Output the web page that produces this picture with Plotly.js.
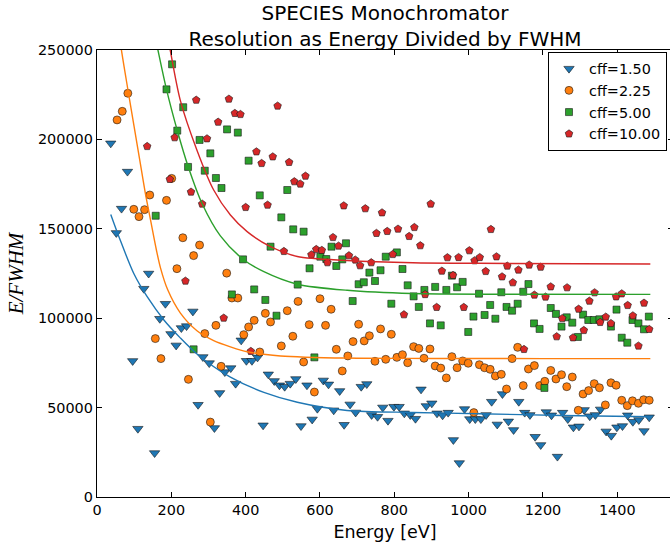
<!DOCTYPE html>
<html>
<head>
<meta charset="utf-8">
<script src="https://cdn.plot.ly/plotly-3.0.1.min.js"></script>
<style>
html, body { margin:0; padding:0; overflow:hidden; background:#fff; width:670px; height:547px; }
#chart { width:680px; height:547px; }
</style>
</head>
<body>
<div id="chart"></div>
<script>
// ---- data ----
const seriesNames = ["cff=1.50", "cff=2.25", "cff=5.00", "cff=10.00"];

const blueE = [37, 52, 66, 82, 96, 110, 126, 139, 155, 169, 184, 199, 213, 227, 241, 258, 272, 285, 302, 316, 330, 344, 360, 373, 388, 402, 417, 432, 447, 461, 477, 491, 505, 520, 535, 549, 565, 579, 593, 609, 623, 637, 653, 665, 681, 696, 711, 726, 739, 755, 769, 783, 799, 813, 827, 843, 857, 872, 886, 901, 915, 930, 945, 959, 975, 989, 1003, 1018, 1033, 1047, 1062, 1077, 1091, 1107, 1121, 1135, 1151, 1165, 1179, 1194, 1209, 1223, 1239, 1253, 1267, 1282, 1297, 1311, 1326, 1341, 1355, 1370, 1384, 1399, 1414, 1428, 1442, 1458, 1472, 1486];
const blueR = [197800, 147700, 161300, 182000, 76100, 38200, 116500, 125000, 24600, 99700, 108100, 91200, 84800, 94500, 95600, 103800, 51600, 78300, 74900, 38600, 58200, 69900, 72100, 63400, 87600, 76200, 76200, 78100, 40100, 68600, 64900, 62500, 61700, 63400, 66000, 39700, 62500, 43400, 49400, 65200, 63000, 48500, 59300, 40400, 51800, 47300, 61700, 63200, 45900, 44900, 50100, 42700, 50500, 50500, 46800, 45900, 43800, 60200, 50900, 52400, 46800, 45700, 47200, 31900, 19000, 49200, 43600, 43600, 43600, 45900, 53300, 40600, 57600, 42300, 37500, 53300, 47200, 45900, 33700, 29100, 47500, 45700, 22600, 47200, 43600, 39000, 39500, 48700, 45200, 45900, 49000, 36700, 34300, 39000, 39700, 45700, 42100, 43100, 36900, 44600];

const orangeE = [54, 68, 83, 99, 113, 128, 142, 157, 172, 187, 201, 215, 231, 246, 260, 276, 290, 305, 320, 334, 349, 363, 379, 395, 408, 423, 438, 453, 467, 496, 512, 527, 541, 556, 571, 585, 600, 615, 630, 644, 660, 675, 689, 704, 719, 733, 748, 763, 777, 792, 807, 822, 836, 852, 866, 880, 896, 910, 925, 940, 955, 969, 984, 999, 1014, 1029, 1043, 1058, 1072, 1088, 1102, 1117, 1132, 1147, 1161, 1177, 1191, 1205, 1221, 1235, 1250, 1264, 1279, 1295, 1308, 1323, 1338, 1352, 1368, 1383, 1397, 1412, 1427, 1441, 1457, 1471, 1486];
const orangeR = [210900, 215700, 225800, 160900, 156800, 160700, 168900, 88600, 77400, 165900, 178200, 127700, 145000, 65800, 135000, 140900, 91400, 41900, 96000, 73100, 125200, 111300, 111300, 90800, 95100, 98800, 81100, 102700, 97900, 84500, 104200, 89900, 109400, 75500, 96400, 58700, 110900, 96000, 105000, 82600, 70500, 78900, 86900, 96600, 87300, 90200, 75900, 94000, 77000, 91000, 78100, 79600, 75100, 84100, 83100, 77600, 82800, 73300, 72100, 66600, 78500, 72300, 76100, 74800, 47200, 74000, 72300, 71400, 67700, 68600, 60400, 77400, 83700, 62300, 71600, 73500, 62300, 64700, 70800, 66000, 68400, 61700, 67100, 48500, 57600, 59500, 63400, 61100, 51500, 63900, 62500, 54100, 51100, 53800, 52400, 54400, 54100];

const greenE = [158, 187, 202, 216, 232, 245, 260, 276, 290, 305, 320, 335, 350, 363, 379, 393, 408, 423, 438, 453, 467, 483, 496, 512, 528, 540, 556, 572, 585, 601, 617, 631, 644, 660, 670, 688, 704, 718, 733, 748, 763, 777, 792, 807, 822, 836, 852, 866, 881, 896, 910, 925, 940, 955, 969, 984, 999, 1013, 1028, 1043, 1058, 1072, 1088, 1102, 1117, 1132, 1147, 1161, 1176, 1191, 1204, 1221, 1235, 1250, 1264, 1279, 1294, 1308, 1322, 1337, 1352, 1383, 1398, 1412, 1427, 1441, 1457, 1472, 1485];
const greenR = [157300, 228000, 242000, 204900, 218000, 184600, 82600, 199700, 182500, 192200, 178400, 172800, 205600, 113300, 203800, 132900, 188100, 116100, 168700, 110200, 140000, 101400, 156400, 171700, 149700, 118800, 148400, 127900, 78100, 134400, 133100, 140000, 129200, 132900, 141900, 109600, 119000, 120100, 125500, 120800, 126800, 134400, 108100, 136800, 127500, 118400, 112200, 106300, 115800, 97100, 117500, 96000, 115800, 123800, 117300, 120300, 92300, 100900, 113700, 101800, 107400, 99700, 114500, 106300, 104200, 108100, 114800, 119100, 97100, 94000, 61000, 105700, 102400, 95300, 100500, 97500, 89500, 102000, 99000, 99000, 99400, 95300, 104800, 89100, 86300, 99000, 97100, 93800, 100900];

const redE = [135, 196, 209, 238, 253, 267, 283, 296, 326, 341, 355, 371, 386, 400, 414, 429, 443, 459, 473, 486, 503, 517, 531, 547, 561, 577, 590, 605, 620, 635, 650, 664, 678, 695, 708, 722, 738, 752, 767, 781, 796, 810, 826, 840, 854, 870, 883, 898, 914, 928, 943, 958, 973, 987, 1002, 1016, 1030, 1046, 1060, 1075, 1090, 1104, 1119, 1134, 1149, 1163, 1177, 1194, 1207, 1221, 1237, 1252, 1265, 1281, 1296, 1310, 1325, 1339, 1354, 1369, 1383, 1397, 1412, 1428, 1442, 1457, 1472, 1486];
const redR = [196100, 177700, 201000, 120800, 170600, 222000, 163900, 200400, 209700, 100100, 222600, 214600, 214000, 162000, 81500, 193100, 186600, 163300, 190300, 218700, 137400, 187200, 176400, 175100, 179500, 135500, 138500, 138000, 131100, 145200, 140400, 162900, 135000, 132600, 129400, 161300, 131100, 147500, 159000, 148600, 135700, 149900, 102000, 145800, 150800, 140600, 113300, 163900, 106100, 126400, 133900, 124000, 134000, 106100, 137800, 132200, 134000, 126200, 149700, 134400, 123200, 129200, 119900, 127000, 82600, 129800, 113000, 128600, 111900, 117600, 89700, 99900, 117100, 89100, 105100, 93200, 109600, 114300, 97700, 100700, 97100, 112000, 113700, 107200, 101400, 84500, 108500, 93800];

// fitted curves
const blueFitE = [37, 60, 99, 135, 180, 224, 269, 359, 449, 539, 673, 850, 1027, 1250, 1489];
const blueFitR = [158000, 145000, 125000, 112000, 99000, 89000, 80000, 67000, 58500, 53000, 48400, 47300, 46600, 45600, 44900];
const orangeFitE = [58, 65, 83, 100, 117, 130, 144, 160, 171, 190, 224, 269, 314, 359, 404, 494, 673, 900, 1200, 1489];
const orangeFitR = [262000, 251000, 228000, 207000, 186000, 170000, 155000, 138000, 128000, 116000, 103000, 93000, 87500, 84000, 81200, 78900, 77700, 77500, 77400, 77400];
const greenFitE = [155, 164, 187, 216, 245, 283, 332, 393, 449, 539, 673, 847, 1100, 1489];
const greenFitR = [259000, 250000, 228000, 205000, 185000, 164000, 146000, 133000, 126000, 119000, 115600, 113800, 113400, 113300];
const redFitE = [190, 197, 224, 269, 314, 359, 404, 467, 539, 673, 850, 1027, 1489];
const redFitR = [258000, 250000, 222000, 194000, 171700, 157700, 148400, 140000, 134500, 132300, 131000, 130700, 130300];

const xTicks = [0, 200, 400, 600, 800, 1000, 1200, 1400];
const yTicks = [0, 50000, 100000, 150000, 200000, 250000];

// ---- styling ----
const colors = ['#1f77b4', '#ff7f0e', '#2ca02c', '#d62728'];
const symbols = ['triangle-down', 'circle', 'square', 'pentagon'];
const sizes = [9, 8, 7, 8];
const pts = [[blueE, blueR], [orangeE, orangeR], [greenE, greenR], [redE, redR]];
const fits = [[blueFitE, blueFitR], [orangeFitE, orangeFitR], [greenFitE, greenFitR], [redFitE, redFitR]];

const traces = [];
pts.forEach((p, i) => {
  traces.push({
    type: 'scatter', mode: 'markers', name: seriesNames[i],
    x: p[0], y: p[1], cliponaxis: true,
    marker: { symbol: symbols[i], size: sizes[i], color: colors[i], line: { color: '#1a1a1a', width: 0.6 } }
  });
});
fits.forEach((f, i) => {
  traces.push({
    type: 'scatter', mode: 'lines', showlegend: false, hoverinfo: 'skip',
    x: f[0], y: f[1],
    line: { color: colors[i], width: 1.4, shape: 'spline', smoothing: 0.8 }
  });
});

const axisCommon = {
  showline: true, linecolor: '#000', linewidth: 1.2, mirror: 'ticks',
  ticks: 'inside', ticklen: 5, tickwidth: 1, tickcolor: '#000',
  showgrid: false, zeroline: false,
  tickfont: { family: 'DejaVu Sans', size: 14.4, color: '#000' }
};

const layout = {
  width: 680, height: 547,
  margin: { l: 97, r: 7, t: 50, b: 50 },
  paper_bgcolor: '#fff', plot_bgcolor: '#fff',
  title: {
    text: 'SPECIES Monochromator<br>Resolution as Energy Divided by FWHM',
    font: { family: 'DejaVu Sans', size: 20, color: '#000' },
    x: 0.5, xref: 'paper', y: 0.964, yref: 'container', yanchor: 'top'
  },
  xaxis: Object.assign({}, axisCommon, {
    range: [0, 1550], tickvals: xTicks, ticktext: xTicks.map(String),
    title: { text: 'Energy [eV]', font: { family: 'DejaVu Sans', size: 17.5, color: '#000' }, standoff: 8 }
  }),
  yaxis: Object.assign({}, axisCommon, {
    range: [0, 250000], tickvals: yTicks, ticktext: yTicks.map(String),
    title: { text: '<i>E/FWHM</i>', font: { family: 'Liberation Serif', size: 21, color: '#000' }, standoff: 8 }
  }),
  showlegend: true,
  legend: {
    x: 0.9896, y: 0.996, xanchor: 'right', yanchor: 'top',
    bgcolor: '#fff', bordercolor: '#000', borderwidth: 1,
    font: { family: 'DejaVu Sans', size: 14.4, color: '#000' },
    tracegroupgap: 0, itemwidth: 30
  }
};

Plotly.newPlot('chart', traces, layout, { staticPlot: true, displayModeBar: false });
</script>
</body>
</html>
